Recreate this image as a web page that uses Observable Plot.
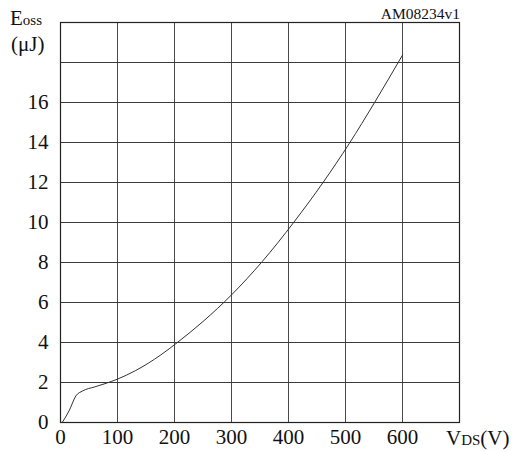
<!DOCTYPE html>
<html>
<head>
<meta charset="utf-8">
<script src="https://cdn.jsdelivr.net/npm/d3@7"></script>
<script src="https://cdn.jsdelivr.net/npm/@observablehq/plot@0.6"></script>
<style>
  html, body { margin: 0; padding: 0; background: #fff; }
  #chart svg { display: block; }
</style>
</head>
<body>
<div id="chart"></div>
<script>
// Curve: VDS (V) vs Eoss (µJ)
const vds  = [3, 15, 27, 39, 60, 80, 100, 132, 176, 205, 250, 300, 354, 409, 460.6, 506.6, 551, 600];
const eoss = [0, 0.58, 1.33, 1.58, 1.78, 1.96, 2.17, 2.6, 3.38, 4.0, 5.05, 6.38, 8.05, 10.0, 12.0, 13.95, 16.0, 18.37];

const xTicks = [0, 100, 200, 300, 400, 500, 600];
const xGrid = [100, 200, 300, 400, 500, 600];
const yTicks = [0, 2, 4, 6, 8, 10, 12, 14, 16];
const yGrid = [2, 4, 6, 8, 10, 12, 14, 16, 18];

const data = vds.map((v, i) => ({v, e: eoss[i]}));

const W = 512, H = 452;
const serif = "'Liberation Serif', 'DejaVu Serif', serif";

const chart = Plot.plot({
  width: W,
  height: H,
  marginLeft: 60,
  marginRight: 53,
  marginTop: 22,
  marginBottom: 30,
  style: {fontFamily: serif, fontSize: "21px", color: "#111", background: "#fff"},
  x: {domain: [0, 700], ticks: xTicks, tickSize: 0, tickPadding: 7, label: null},
  y: {domain: [0, 20], ticks: yTicks, tickSize: 0, tickPadding: 12, label: null},
  marks: [
    Plot.ruleX(xGrid, {stroke: "#4a4a4a", strokeWidth: 1}),
    Plot.ruleY(yGrid, {stroke: "#3a3a3a", strokeWidth: 1}),
    Plot.frame({stroke: "#222", strokeWidth: 1.2}),
    Plot.line(data, {x: "v", y: "e", curve: "monotone-x", stroke: "#333", strokeWidth: 1})
  ]
});

const svg = d3.select(chart);
// Axis title: Eoss (µJ)
const t1 = svg.append("text").attr("x", 10).attr("y", 25).attr("text-anchor", "start")
  .attr("font-family", serif).attr("font-size", 21).attr("fill", "#111");
t1.append("tspan").text("E");
t1.append("tspan").attr("font-size", 15).text("oss");
svg.append("text").attr("x", 11).attr("y", 51).attr("text-anchor", "start")
  .attr("font-family", serif).attr("font-size", 21).attr("fill", "#111").text("(μJ)");
// Axis title: VDS(V)
const t2 = svg.append("text").attr("x", 446).attr("y", 445).attr("text-anchor", "start")
  .attr("font-family", serif).attr("font-size", 21).attr("fill", "#111");
t2.append("tspan").text("V");
t2.append("tspan").attr("font-size", 15).text("DS");
t2.append("tspan").text("(V)");
// Figure id
svg.append("text").attr("x", 460).attr("y", 19).attr("text-anchor", "end")
  .attr("font-family", serif).attr("font-size", 15.5).attr("fill", "#111").text("AM08234v1");

document.getElementById("chart").appendChild(chart);
</script>
</body>
</html>
